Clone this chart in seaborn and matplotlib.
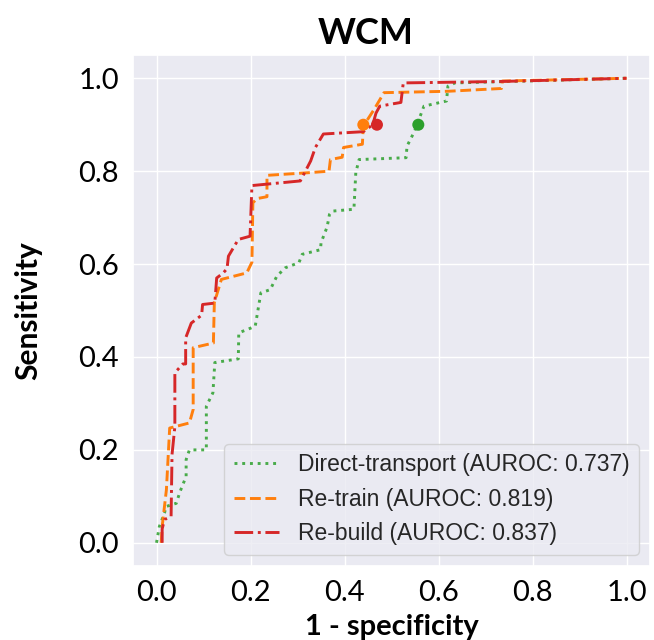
import numpy as np
import matplotlib
matplotlib.use('Agg')
import matplotlib.pyplot as plt
import seaborn as sns
import pandas as pd

# ROC curve points (1 - specificity, sensitivity)
direct_fpr = [0.0, 0.006, 0.017, 0.02, 0.042, 0.05, 0.063, 0.063, 0.07, 0.106, 0.106,
              0.12, 0.124, 0.174, 0.175, 0.21, 0.222, 0.242, 0.256, 0.274, 0.303,
              0.31, 0.349, 0.35, 0.363, 0.368, 0.374, 0.42, 0.424, 0.431, 0.531,
              0.533, 0.549, 0.569, 0.617, 0.62, 0.635, 1.0]
direct_tpr = [0.0, 0.035, 0.064, 0.078, 0.085, 0.11, 0.143, 0.179, 0.2, 0.2, 0.294,
              0.323, 0.388, 0.396, 0.452, 0.466, 0.538, 0.545, 0.574, 0.592, 0.603,
              0.621, 0.631, 0.646, 0.68, 0.707, 0.714, 0.718, 0.797, 0.825, 0.829,
              0.854, 0.886, 0.94, 0.951, 0.983, 0.99, 1.0]

retrain_fpr = [0.01, 0.012, 0.021, 0.028, 0.07, 0.078, 0.078, 0.121, 0.123, 0.138,
               0.192, 0.203, 0.205, 0.214, 0.235, 0.235, 0.328, 0.367, 0.37, 0.395,
               0.398, 0.438, 0.44, 0.463, 0.484, 0.62, 0.734, 0.736, 1.0]
retrain_tpr = [0.0, 0.035, 0.114, 0.247, 0.258, 0.287, 0.42, 0.43, 0.517, 0.567,
               0.581, 0.604, 0.732, 0.741, 0.745, 0.791, 0.797, 0.80, 0.825, 0.83,
               0.851, 0.858, 0.897, 0.933, 0.969, 0.972, 0.978, 0.994, 1.0]

rebuild_fpr = [0.012, 0.012, 0.017, 0.031, 0.033, 0.039, 0.039, 0.056, 0.062, 0.062,
               0.074, 0.096, 0.098, 0.124, 0.128, 0.142, 0.150, 0.153, 0.174, 0.199,
               0.203, 0.306, 0.328, 0.338, 0.355, 0.44, 0.46, 0.467, 0.475, 0.52,
               0.525, 0.73, 1.0]
rebuild_tpr = [0.0, 0.03, 0.05, 0.057, 0.19, 0.25, 0.366, 0.385, 0.385, 0.441,
               0.473, 0.49, 0.513, 0.516, 0.57, 0.581, 0.59, 0.617, 0.653, 0.66,
               0.769, 0.779, 0.822, 0.851, 0.88, 0.885, 0.9, 0.925, 0.94, 0.948,
               0.99, 0.993, 1.0]

models = ['Direct-transport', 'Re-train', 'Re-build']
aurocs = [0.737, 0.819, 0.837]
# operating points (dots)
op_fpr = [0.557, 0.44, 0.469]
op_tpr = [0.9, 0.9, 0.9]

colors = ['#2ca02c', '#ff7f0e', '#d62728']
styles = [':', '--', '-.']


def build_frame():
    curves = [(direct_fpr, direct_tpr), (retrain_fpr, retrain_tpr), (rebuild_fpr, rebuild_tpr)]
    frames = []
    for name, (fpr, tpr) in zip(models, curves):
        frames.append(pd.DataFrame({'fpr': fpr, 'tpr': tpr, 'model': name}))
    return pd.concat(frames, ignore_index=True)


def plot_roc(df):
    sns.set_theme(style='darkgrid')
    plt.rcParams['font.family'] = ['Lato', 'DejaVu Sans']

    fig = plt.figure(figsize=(6.54, 6.4), dpi=100)
    ax = fig.add_axes([0.2034, 0.1156, 0.7905, 0.7984])

    handles = []
    for i, name in enumerate(models):
        sub = df[df['model'] == name]
        sns.lineplot(data=sub, x='fpr', y='tpr', sort=False, estimator=None,
                     color=colors[i], linestyle=styles[i], linewidth=2.1,
                     alpha=0.85 if i == 0 else 1.0, ax=ax)
        handles.append(ax.lines[-1])

    pts = pd.DataFrame({'fpr': op_fpr, 'tpr': op_tpr, 'model': models})
    sns.scatterplot(data=pts, x='fpr', y='tpr', hue='model', palette=colors,
                    s=75, edgecolor='none', legend=False, ax=ax, zorder=5)

    ax.set_xlim(-0.05, 1.05)
    ax.set_ylim(-0.05, 1.05)
    ax.set_xticks([0.0, 0.2, 0.4, 0.6, 0.8, 1.0])
    ax.set_yticks([0.0, 0.2, 0.4, 0.6, 0.8, 1.0])
    ax.tick_params(axis='both', labelsize=21, colors='black', pad=4)

    ax.set_title('WCM', fontsize=26, fontweight='bold', color='black',
                 x=0.449, pad=8)
    ax.set_xlabel('1 - specificity', fontsize=21, fontweight='bold',
                  color='black', labelpad=6)
    ax.set_ylabel('Sensitivity', fontsize=21.5, fontweight='bold',
                  color='black', labelpad=26)

    labels = [f'{m} (AUROC: {a:.3f})' for m, a in zip(models, aurocs)]
    ax.legend(handles, labels, loc='lower right',
              prop={'family': 'Liberation Sans', 'size': 16.5})

    fig.savefig('out.png', dpi=100)
    plt.close(fig)


def main():
    df = build_frame()
    plot_roc(df)


if __name__ == "__main__":
    main()
